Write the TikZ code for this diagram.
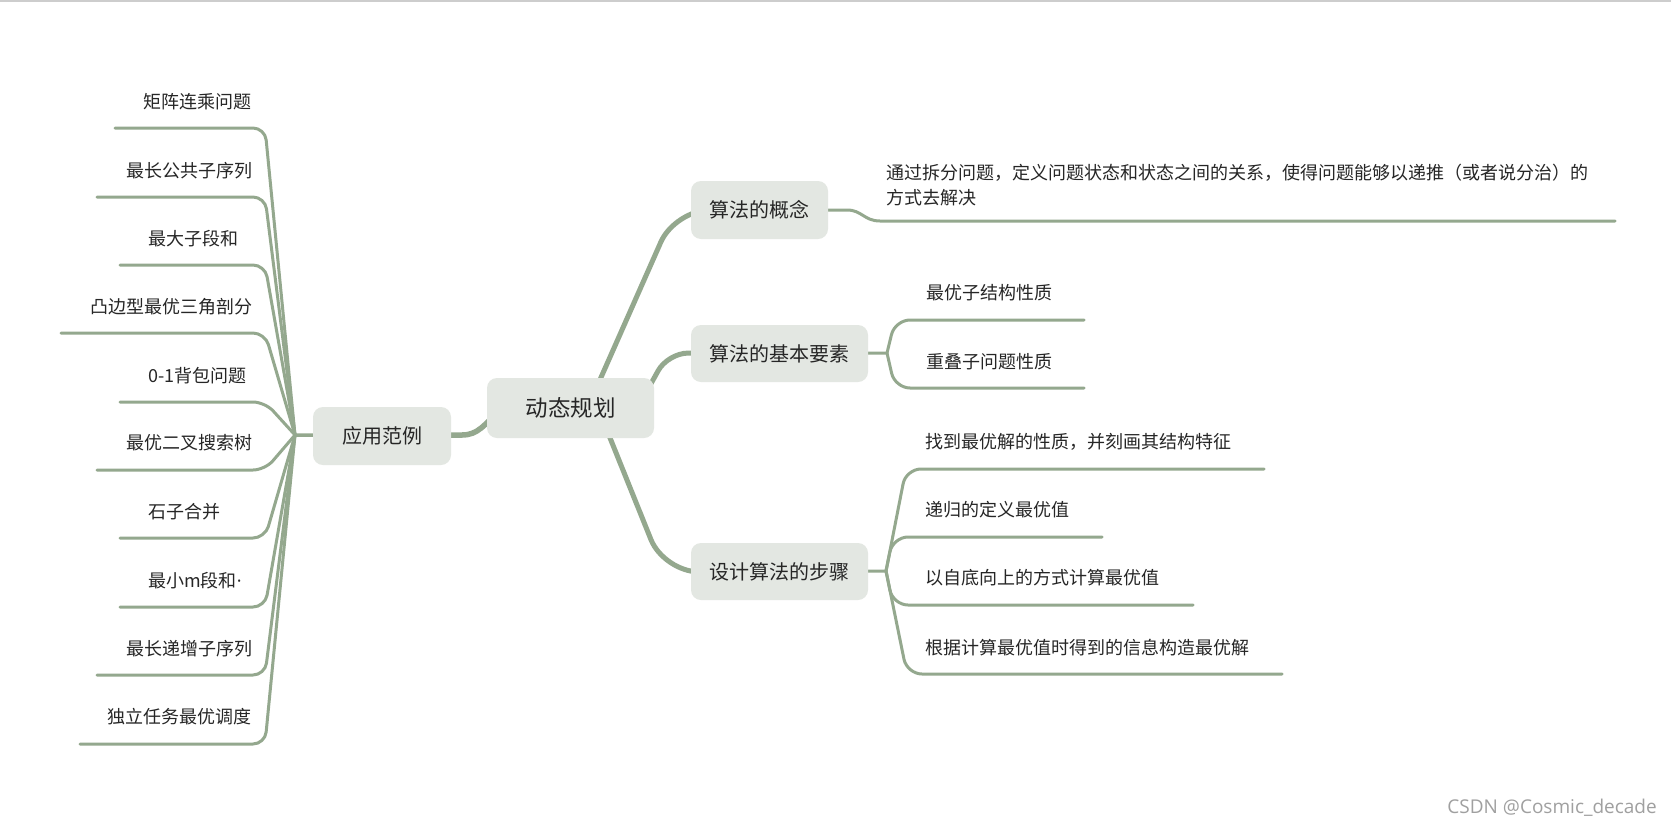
\documentclass[tikz,border=0pt]{standalone}
\usepackage{fontspec}
\newfontfamily\cjk{Noto Sans CJK SC}
\newfontfamily\wmfont{Open Sans}
\usetikzlibrary{backgrounds}
\definecolor{branch}{RGB}{148,168,142}
\definecolor{nodefill}{RGB}{227,231,226}
\definecolor{ink}{RGB}{38,38,38}
\definecolor{topline}{RGB}{205,205,205}
\definecolor{wm}{RGB}{160,160,160}
\begin{document}
\begin{tikzpicture}[x=1pt,y=-1pt,
  topic/.style={fill=nodefill, rounded corners=10pt, inner sep=0pt, text=ink,
    font=\cjk\fontsize{20}{24}\selectfont, text height=17.6pt, text depth=2.4pt},
  leaf/.style={inner sep=0pt, text=ink, anchor=west,
    font=\cjk\fontsize{18}{22}\selectfont, text height=15.84pt, text depth=2.16pt},
  twig/.style={draw=branch, line width=3pt, rounded corners=12pt, line cap=round},
  limb/.style={draw=branch, line width=5pt, line cap=round},
]
\useasboundingbox (0,0) rectangle (1671,828);
\begin{scope}[on background layer]
\fill[white] (0,0) rectangle (1671,828);
\end{scope}
\draw[topline, line width=1.5pt] (0,1) -- (1671,1);

% topics
\node[topic, minimum width=167pt, minimum height=60pt,
  font=\cjk\fontsize{22.5}{26}\selectfont, text height=19.8pt, text depth=2.7pt] (root) at (570.5,408) {动态规划};
\node[topic, minimum width=138pt, minimum height=58pt] (app) at (382,436) {应用范例};
\node[topic, minimum width=137pt, minimum height=58pt] (concept) at (759.5,210) {算法的概念};
\node[topic, minimum width=177pt, minimum height=57pt] (elem) at (779.5,353.5) {算法的基本要素};
\node[topic, minimum width=177pt, minimum height=57pt] (steps) at (779.5,571.5) {设计算法的步骤};

% hubs
\coordinate (hubL) at (295,435);
\coordinate (hubC) at (847,210);
\coordinate (hubE) at (887,353);
\coordinate (hubS) at (886,571);

% left leaves
\node[leaf] (a1) at (143,102) {矩阵连乘问题};
\node[leaf] (a2) at (126,171) {最长公共子序列};
\node[leaf] (a3) at (148,239) {最大子段和};
\node[leaf] (a4) at (90,307) {凸边型最优三角剖分};
\node[leaf] (a5) at (148,376) {0-1背包问题};
\node[leaf] (a6) at (126,443) {最优二叉搜索树};
\node[leaf] (a7) at (148,512) {石子合并};
\node[leaf] (a8) at (148,581) {最小m段和{\wmfont ·}};
\node[leaf] (a9) at (126,649) {最长递增子序列};
\node[leaf] (a10) at (107,717) {独立任务最优调度};
\coordinate (la1) at (115,128);
\coordinate (la2) at (97,197);
\coordinate (la3) at (120,265);
\coordinate (la4) at (61,333);
\coordinate (la5) at (120,402);
\coordinate (la6) at (97,470);
\coordinate (la7) at (120,538);
\coordinate (la8) at (120,607);
\coordinate (la9) at (97,675);
\coordinate (la10) at (80,744);

% concept description
\node[inner sep=0pt, anchor=north west, align=left, text=ink,
  font=\cjk\fontsize{18}{25}\selectfont] (desc) at (886,164)
  {通过拆分问题，定义问题状态和状态之间的关系，使得问题能够以递推（或者说分治）的\\方式去解决};
\coordinate (ldesc) at (1615,221);

% element leaves
\node[leaf] (e1) at (926,293) {最优子结构性质};
\node[leaf] (e2) at (926,362) {重叠子问题性质};
\coordinate (le1) at (1084,320);
\coordinate (le2) at (1084,388);

% step leaves
\node[leaf] (s1) at (925,442) {找到最优解的性质，并刻画其结构特征};
\node[leaf] (s2) at (925,510) {递归的定义最优值};
\node[leaf] (s3) at (925,578) {以自底向上的方式计算最优值};
\node[leaf] (s4) at (925,648) {根据计算最优值时得到的信息构造最优解};
\coordinate (ls1) at (1264,469);
\coordinate (ls2) at (1102,537);
\coordinate (ls3) at (1193,605);
\coordinate (ls4) at (1282,674);

% watermark
\node[inner sep=0pt, anchor=east, text=wm, font=\wmfont\fontsize{19}{22}\selectfont] (wmark) at (1657,808) {CSDN @Cosmic\_decade};

\begin{scope}[on background layer]
% main limbs
\draw[limb, rounded corners=35pt] ([xshift=17pt]root.center) -- (675,210) -- (concept.center);
\draw[limb, rounded corners=20pt] ([xshift=62.5pt, yshift=-8pt]root.center) -- (668,353) -- (elem.center);
\draw[limb, rounded corners=35pt] ([xshift=27.5pt]root.center) -- (664,572) -- (steps.center);
\draw[limb, line width=5.5pt] (app.center) -- (462,435) .. controls (478,435) and (484,425) .. (500,410);
% stubs
\draw[twig, line width=3.5pt] (app.center) -- (hubL);
\draw[twig] (elem.center) -- (hubE);
\draw[twig] (steps.center) -- (hubS);
% left leaves
\draw[twig] (hubL) -- (265,128) -- (la1);
\draw[twig] (hubL) -- (265,197) -- (la2);
\draw[twig] (hubL) -- (265,265) -- (la3);
\draw[twig] (hubL) -- (265,333) -- (la4);
\draw[twig] (hubL) -- (265,402) -- (la5);
\draw[twig] (hubL) -- (265,470) -- (la6);
\draw[twig] (hubL) -- (265,538) -- (la7);
\draw[twig] (hubL) -- (265,607) -- (la8);
\draw[twig] (hubL) -- (265,675) -- (la9);
\draw[twig] (hubL) -- (265,744) -- (la10);
% concept
\draw[twig, rounded corners=0pt] (concept.center) -- (hubC) .. controls (862,210) and (864,221) .. (880,221) -- (ldesc);
% elements
\draw[twig, rounded corners=15pt] (hubE) -- (895,320) -- (le1);
\draw[twig, rounded corners=15pt] (hubE) -- (895,388) -- (le2);
% steps
\draw[twig, rounded corners=15pt] (hubS) -- (906,469) -- (ls1);
\draw[twig, rounded corners=15pt] (hubS) -- (893,537) -- (ls2);
\draw[twig, rounded corners=15pt] (hubS) -- (893,605) -- (ls3);
\draw[twig, rounded corners=15pt] (hubS) -- (907,674) -- (ls4);
\end{scope}
\end{tikzpicture}
\end{document}
